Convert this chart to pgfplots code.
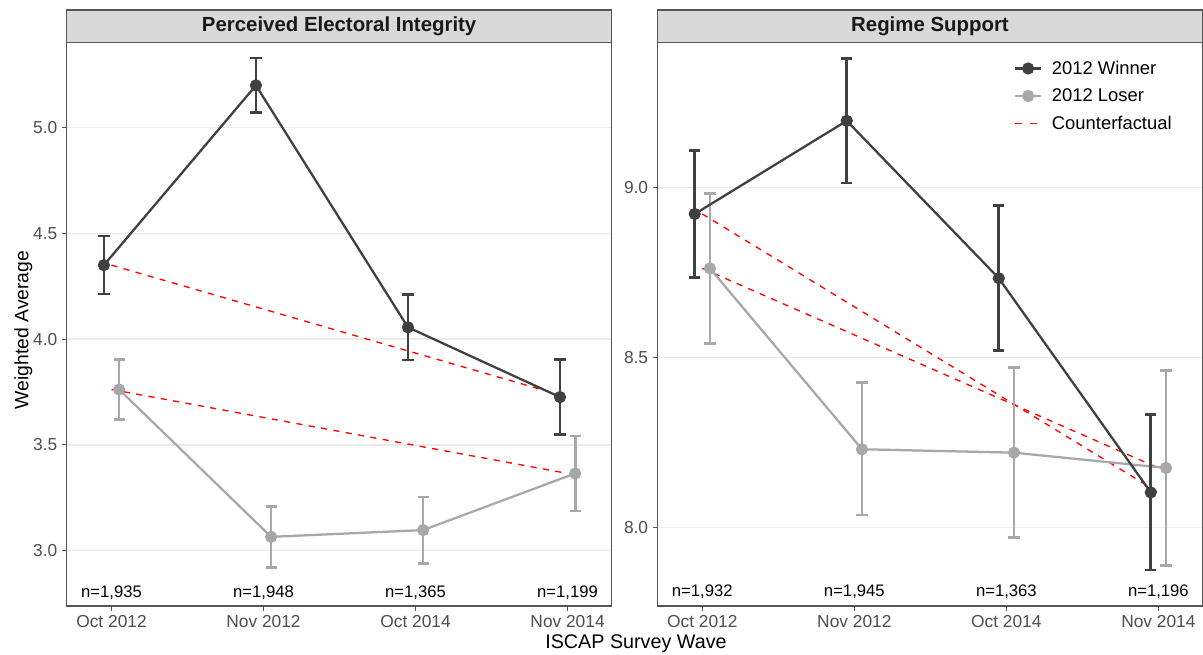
\documentclass[border=0pt]{standalone}
\usepackage{fontspec}
\setmainfont{Liberation Sans}
\usepackage{pgfplots}
\pgfplotsset{compat=1.18}
\definecolor{win}{HTML}{404040}
\definecolor{lose}{HTML}{A8A8A8}
\definecolor{gridc}{HTML}{EBEBEB}
\definecolor{framec}{HTML}{555555}
\definecolor{stripc}{HTML}{D9D9D9}
\definecolor{tickc}{HTML}{4D4D4D}
\pgfplotsset{
  panel/.style={
    scale only axis, width=408.75pt, height=422.8pt,
    xmin=0.705, xmax=4.29,
    xtick={1,2,3,4}, xticklabels={Oct 2012, Nov 2012, Oct 2014, Nov 2014},
    tick label style={font=\fontsize{13}{15}\selectfont, text=tickc},
    /pgf/number format/assume math mode=true,
    yticklabel style={/pgf/number format/fixed, /pgf/number format/fixed zerofill, /pgf/number format/precision=1},
    tick align=outside, tick pos=left, major tick length=3.5pt,
    every tick/.style={framec, line width=0.8pt},
    ymajorgrids, major grid style={gridc, line width=1pt},
    axis line style={framec, line width=0.8pt},
    clip=false,
  },
  wline/.style={win, line width=1.7pt, mark=*, mark size=3.7pt,
    error bars/y dir=both, error bars/y explicit,
    error bars/error bar style={win, line width=2pt},
    error bars/error mark options={win, line width=2pt, mark size=4.2pt, rotate=90}},
  lline/.style={lose, line width=1.7pt, mark=*, mark size=3.7pt,
    error bars/y dir=both, error bars/y explicit,
    error bars/error bar style={lose, line width=2pt},
    error bars/error mark options={lose, line width=2pt, mark size=4.2pt, rotate=90}},
  cf/.style={red, line width=1pt, dash pattern=on 4.6pt off 4.8pt, no marks},
}
\newcommand{\strip}[1]{%
  \draw[framec, line width=0.8pt, fill=stripc] (rel axis cs:0,1) rectangle ([yshift=24.2pt]rel axis cs:1,1);
  \node[font=\fontsize{15.3}{18}\selectfont\bfseries, text=black!90] at ([yshift=12.1pt]rel axis cs:0.5,1) {#1};}
\begin{document}
\begin{tikzpicture}
\path[use as bounding box] (0,0) rectangle (902.25pt,490.5pt);
% Left panel
\begin{axis}[panel, at={(50pt,36pt)}, anchor=south west,
  ymin=2.738, ymax=5.404, ytick={3,3.5,4,4.5,5}]
\strip{Perceived Electoral Integrity}
\addplot[cf] coordinates {(1,4.350) (4,3.726)};
\addplot[cf] coordinates {(1,3.762) (4,3.365)};
\addplot[lline] coordinates {
 (1.05,3.762) +=(0,0.142) -=(0,0.141)
 (2.05,3.065) +=(0,0.142) -=(0,0.145)
 (3.05,3.097) +=(0,0.156) -=(0,0.159)
 (4.05,3.365) +=(0,0.177) -=(0,0.177)};
\addplot[wline] coordinates {
 (0.95,4.350) +=(0,0.138) -=(0,0.137)
 (1.95,5.200) +=(0,0.130) -=(0,0.129)
 (2.95,4.056) +=(0,0.156) -=(0,0.155)
 (3.95,3.726) +=(0,0.178) -=(0,0.178)};
\node[font=\fontsize{12.5}{15}\selectfont] at (axis cs:1,2.803) {n=1,935};
\node[font=\fontsize{12.5}{15}\selectfont] at (axis cs:2,2.803) {n=1,948};
\node[font=\fontsize{12.5}{15}\selectfont] at (axis cs:3,2.803) {n=1,365};
\node[font=\fontsize{12.5}{15}\selectfont] at (axis cs:4,2.803) {n=1,199};
\end{axis}
\node[rotate=90, font=\fontsize{14.5}{17}\selectfont] at (17.5pt,243pt) {Weighted Average};
\node[font=\fontsize{14.8}{17}\selectfont] at (477pt,7.8pt) {ISCAP Survey Wave};
% Right panel
\begin{axis}[panel, at={(493.1pt,36pt)}, anchor=south west,
  ymin=7.770, ymax=9.428, ytick={8,8.5,9},
  legend style={draw=none, fill=none, at={(rel axis cs:0.647,0.977)}, anchor=north west,
    font=\fontsize{13.8}{16}\selectfont, row sep=5.3pt,
    /tikz/every even column/.append style={column sep=14pt}},
  legend image code/.code={\draw[#1] (0pt,0pt) -- (19pt,0pt); \draw[#1, only marks] plot coordinates {(9.5pt,0pt)};},
  legend cell align=left]
\strip{Regime Support}
\addlegendimage{win, line width=1.7pt, mark=*, mark size=3.7pt}
\addlegendentry{\hspace*{5.5pt}2012 Winner}
\addlegendimage{lose, line width=1.7pt, mark=*, mark size=3.7pt}
\addlegendentry{\hspace*{5.5pt}2012 Loser}
\addlegendimage{red, line width=1.2pt, dash pattern=on 5pt off 6pt, no marks}
\addlegendentry{\hspace*{5.5pt}Counterfactual}
\addplot[forget plot, cf] coordinates {(1,8.923) (4,8.104)};
\addplot[forget plot, cf] coordinates {(1,8.763) (4,8.176)};
\addplot[forget plot, lline] coordinates {
 (1.05,8.763) +=(0,0.221) -=(0,0.221)
 (2.05,8.231) +=(0,0.197) -=(0,0.193)
 (3.05,8.221) +=(0,0.251) -=(0,0.250)
 (4.05,8.176) +=(0,0.287) -=(0,0.287)};
\addplot[forget plot, wline] coordinates {
 (0.95,8.923) +=(0,0.187) -=(0,0.187)
 (1.95,9.197) +=(0,0.184) -=(0,0.183)
 (2.95,8.734) +=(0,0.214) -=(0,0.213)
 (3.95,8.104) +=(0,0.230) -=(0,0.228)};
\node[font=\fontsize{12.5}{15}\selectfont] at (axis cs:1,7.813) {n=1,932};
\node[font=\fontsize{12.5}{15}\selectfont] at (axis cs:2,7.813) {n=1,945};
\node[font=\fontsize{12.5}{15}\selectfont] at (axis cs:3,7.813) {n=1,363};
\node[font=\fontsize{12.5}{15}\selectfont] at (axis cs:4,7.813) {n=1,196};
\end{axis}
\end{tikzpicture}
\end{document}
